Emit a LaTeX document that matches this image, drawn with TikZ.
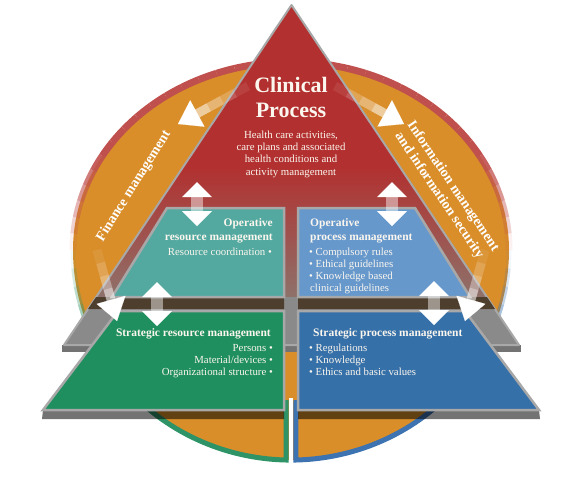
\documentclass[tikz,border=0pt]{standalone}
\usepackage{fontspec}
\setmainfont{Liberation Serif}
\usetikzlibrary{arrows.meta,calc}
\definecolor{clinred}{HTML}{B2302F}
\definecolor{clinbrown}{HTML}{8E716A}
\definecolor{ringorange}{HTML}{D98E2A}
\definecolor{rimred}{HTML}{C0504D}
\definecolor{rimgreen}{HTML}{2E9467}
\definecolor{rimblue}{HTML}{3C73B0}
\definecolor{opteal}{HTML}{53A9A0}
\definecolor{opblue}{HTML}{6698CC}
\definecolor{stratgreen}{HTML}{1F8F5F}
\definecolor{stratblue}{HTML}{3670A8}
\definecolor{edgegray}{HTML}{A8A8A8}
\definecolor{slabgray}{HTML}{8A8A8A}
\definecolor{bandbrown}{HTML}{4E3E2E}
\definecolor{textwhite}{HTML}{FBF6EE}
\tikzset{
  panel/.style={draw=edgegray, line width=2.5pt},
  heading/.style={font=\bfseries\fontsize{11.5}{14}\selectfont, text=textwhite, inner sep=0pt},
  items/.style={font=\fontsize{10.8}{12}\selectfont, text=textwhite, inner sep=0pt},
  bandtext/.style={font=\bfseries\fontsize{14}{16.5}\selectfont, text=white, inner sep=0pt, align=center},
  ringtip/.style={white, line width=0.1pt, -{Triangle[width=30pt,length=22pt]}}
}
% double arrow between two layers: x, top y
\newcommand{\layerarrow}[2]{%
  \fill[white] (#1,#2) -- (#1+15,#2+15) -- (#1-15,#2+15) -- cycle;
  \fill[white, opacity=.45] (#1-6,#2+15) rectangle (#1+6,#2+29);
  \fill[white] (#1-15,#2+29) -- (#1+15,#2+29) -- (#1,#2+44) -- cycle;
}
% fading arrow out of the clinical process: start, tip
\newcommand{\ringarrow}[2]{%
  \coordinate (base) at ($(#2)!20pt!(#1)$);
  \foreach \pos/\op in {0/.08,.25/.2,.5/.35,.75/.55}
    \draw[white, line width=9pt, opacity=\op] ($(#1)!\pos!(base)$) -- ($(#1)!\pos+.25!(base)$);
  \draw[ringtip] ($(#2)!21pt!(#1)$) -- (#2);
}

\begin{document}
\begin{tikzpicture}[x=1pt, y=-1pt]
\useasboundingbox (0,0) rectangle (584,480);

% ring behind the pyramid
\fill[ringorange] (509,250) arc[start angle=0, end angle=180, x radius=218, y radius=210]
  arc[start angle=180, end angle=360, x radius=218, y radius=188] -- cycle;
\fill[white] (288.5,398) rectangle (293,470);
\foreach \a in {180,185,...,355}{
  \pgfmathsetmacro\op{min(1,min(\a-177.5,357.5-\a)/30)}
  \draw[rimred, line width=7pt, opacity=\op] (291,250) ++(\a:218 and 188)
    arc[start angle=\a, end angle=\a+5, x radius=218, y radius=188];
}
\draw[rimgreen, line width=5pt] (286,400) -- (286.1,460)
  arc[start angle=91.3, end angle=140, x radius=218, y radius=210];
\foreach \a in {140,145,...,175}{
  \pgfmathsetmacro\op{(177.5-\a)/40}
  \draw[rimgreen, line width=5pt, opacity=\op] (291,250) ++(\a:218 and 210)
    arc[start angle=\a, end angle=\a+5, x radius=218, y radius=210];
}
\draw[rimblue, line width=5pt] (296,400) -- (295.9,460)
  arc[start angle=88.7, end angle=40, x radius=218, y radius=210];
\foreach \a in {0,5,...,35}{
  \pgfmathsetmacro\op{(\a+2.5)/40}
  \draw[rimblue, line width=5pt, opacity=\op] (291,250) ++(\a:218 and 210)
    arc[start angle=\a, end angle=\a+5, x radius=218, y radius=210];
}

% pyramid
\fill[black!55] (62,345) -- (521,345) -- (521,352) -- (62,352) -- cycle;
\fill[clinred] (291.5,5) -- (519,345) -- (64,345) -- cycle;
\shade[top color=clinred, bottom color=clinbrown] (184.5,165) -- (398.5,165) -- (486.9,297) -- (96.1,297) -- cycle;
\fill[slabgray] (96.1,297) -- (486.9,297) -- (519,345) -- (64,345) -- cycle;
\draw[edgegray, line width=2pt, line join=round] (64,345) -- (291.5,5) -- (519,345) -- cycle;

\fill[bandbrown] (96.1,297) -- (284,297) -- (284,309) -- (88,309) -- cycle;
\fill[bandbrown] (298,297) -- (486.9,297) -- (495,309) -- (298,309) -- cycle;
\filldraw[panel, fill=opteal] (167,208) -- (284,208) -- (284,297) -- (112,297) -- cycle;
\filldraw[panel, fill=opblue] (298,208) -- (415,208) -- (470,297) -- (298,297) -- cycle;

\fill[black, opacity=.55] (43,410) -- (284,410) -- (284,419) -- (42,419) -- cycle;
\fill[black, opacity=.55] (298,410) -- (539,410) -- (540,419) -- (298,419) -- cycle;
\filldraw[panel, fill=stratgreen] (118,311) -- (284,311) -- (284,410) -- (43,410) -- cycle;
\filldraw[panel, fill=stratblue] (298,311) -- (465,311) -- (539,410) -- (298,410) -- cycle;

% arrows
\ringarrow{248,86}{178,124}
\ringarrow{335,86}{404,124}
\ringarrow{97,250}{117,321}
\ringarrow{485,250}{465,321}
\layerarrow{197}{182}
\layerarrow{392}{182}
\layerarrow{157}{282}
\layerarrow{434}{281}

% texts
\node[font=\bfseries\fontsize{22}{25}\selectfont, text=textwhite, align=center, inner sep=0pt] (clinical) at (291,97) {Clinical\\Process};
\node[items, font=\fontsize{10.8}{12.3}\selectfont, align=center] (clinicaltext) at (291,154)
  {Health care activities,\\care plans and associated\\health conditions and\\activity management};
\node[heading, align=right, anchor=north east] (opres) at (273,218) {Operative\\resource management};
\node[items, anchor=north east] (opresitems) at (272,247.5) {Resource coordination \textbullet};
\node[heading, align=left, anchor=north west] (opproc) at (310,218) {Operative\\process management};
\node[items, align=left, anchor=north west] (opprocitems) at (309,247.5)
  {\textbullet{} Compulsory rules\\\textbullet{} Ethical guidelines\\\textbullet{} Knowledge based\\\hspace{1pt}clinical guidelines};
\node[heading, anchor=north east] (strres) at (271,328) {Strategic resource management};
\node[items, align=right, anchor=north east] (strresitems) at (273,344)
  {Persons \textbullet\\Material/devices \textbullet\\Organizational structure \textbullet};
\node[heading, anchor=north west] (strproc) at (313,328) {Strategic process management};
\node[items, align=left, anchor=north west] (strprocitems) at (309,344)
  {\textbullet{} Regulations\\\textbullet{} Knowledge\\\textbullet{} Ethics and basic values};
\node[bandtext, rotate=58] (finance) at (134,186) {Finance management};
\node[bandtext, rotate=-56] (infosec) at (446,191) {Information management\\and information security};
\end{tikzpicture}
\end{document}
